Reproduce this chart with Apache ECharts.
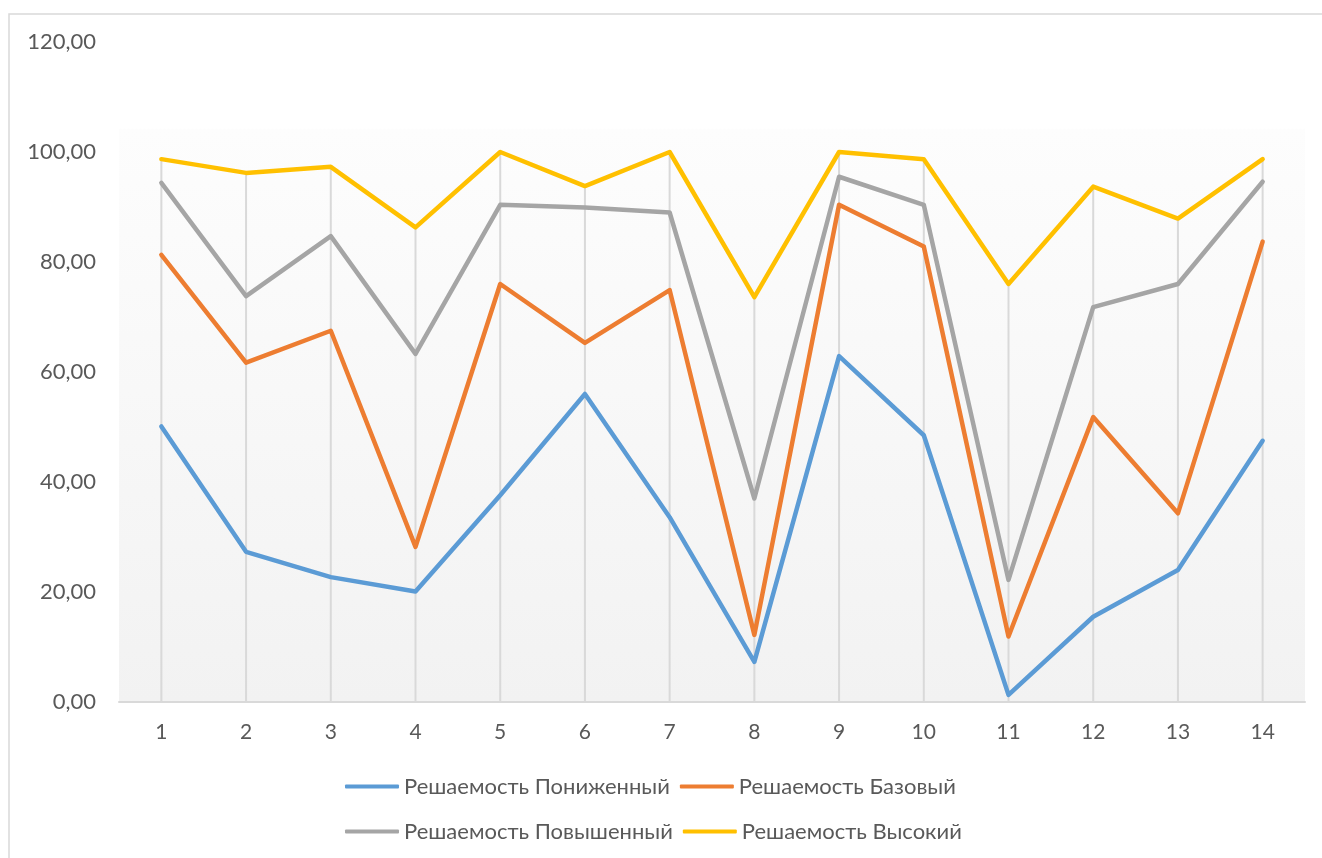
<!DOCTYPE html>
<html>
<head>
<meta charset="utf-8">
<style>
  html, body { margin: 0; padding: 0; background: #ffffff; }
  #chart { width: 1322px; height: 858px; }
</style>
<script src="https://cdn.jsdelivr.net/npm/echarts@6/dist/echarts.min.js"></script>
</head>
<body>
<div id="chart"></div>
<script>
// Task numbers along the horizontal axis
const categories = ['1', '2', '3', '4', '5', '6', '7', '8', '9', '10', '11', '12', '13', '14'];

// Solve rate (%) per difficulty level
const lowLevel = [50.1, 27.3, 22.7, 20.1, 37.6, 56.0, 33.6, 7.3, 62.9, 48.5, 1.3, 15.5, 24.0, 47.5];
const baseLevel = [81.3, 61.7, 67.5, 28.2, 76.0, 65.3, 74.9, 12.2, 90.4, 82.8, 11.9, 51.8, 34.3, 83.7];
const raisedLevel = [94.4, 73.8, 84.7, 63.3, 90.4, 89.9, 89.0, 37.0, 95.5, 90.4, 22.2, 71.8, 76.0, 94.6];
const highLevel = [98.7, 96.2, 97.3, 86.3, 100.0, 93.8, 100.0, 73.6, 100.0, 98.7, 76.0, 93.7, 87.9, 98.7];

const seriesNames = ['Решаемость Пониженный', 'Решаемость Базовый', 'Решаемость Повышенный', 'Решаемость Высокий'];
const seriesColors = ['#5B9BD5', '#ED7D31', '#A5A5A5', '#FFC000'];
const seriesValues = [lowLevel, baseLevel, raisedLevel, highLevel];

// Drop lines run from the axis up to the highest point of each task
const dropLineTops = categories.map((_, i) => Math.max(...seriesValues.map(s => s[i])));

const FONT = 'Lato, "Noto Sans", sans-serif';
const TEXT_COLOR = '#595959';

const chart = echarts.init(document.getElementById('chart'), null, { renderer: 'canvas' });

const lineSeries = seriesNames.map((name, i) => ({
  name: name,
  type: 'line',
  data: seriesValues[i],
  symbol: 'none',
  color: seriesColors[i],
  lineStyle: { width: 4.5, color: seriesColors[i], join: 'round', cap: 'round' },
  z: 3 + i
}));

const dropLines = {
  name: 'dropLines',
  type: 'bar',
  data: dropLineTops,
  barWidth: 2,
  silent: true,
  itemStyle: { color: '#d9d9d9' },
  z: 1
};

chart.setOption({
  animation: false,
  backgroundColor: '#ffffff',
  graphic: [{
    type: 'rect',
    shape: { x: 9, y: 14, width: 1400, height: 900 },
    style: { fill: 'none', stroke: '#d9d9d9', lineWidth: 1.5 },
    silent: true,
    z: -10
  }],
  grid: {
    left: 119,
    right: 17,
    top: 42,
    bottom: 156,
    show: true,
    borderWidth: 0,
    backgroundColor: {
      type: 'linear', x: 0, y: 0, x2: 0, y2: 1,
      colorStops: [
        { offset: 0, color: '#ffffff' },
        { offset: 0.131, color: '#ffffff' },
        { offset: 0.133, color: '#fdfdfd' },
        { offset: 1, color: '#f2f2f2' }
      ]
    }
  },
  legend: {
    data: seriesNames,
    left: 345,
    top: 769,
    width: 660,
    padding: 0,
    itemWidth: 54,
    itemHeight: 4,
    itemGap: 10,
    icon: 'roundRect',
    textStyle: { fontFamily: FONT, fontSize: 22, color: TEXT_COLOR, lineHeight: 35 }
  },
  xAxis: {
    type: 'category',
    data: categories,
    boundaryGap: true,
    axisLine: { show: true, lineStyle: { color: '#d9d9d9', width: 2 } },
    axisTick: { show: false },
    axisLabel: { fontFamily: FONT, fontSize: 21, color: TEXT_COLOR, margin: 20 },
    splitLine: { show: false }
  },
  yAxis: {
    type: 'value',
    min: 0,
    max: 120,
    interval: 20,
    axisLine: { show: false },
    axisTick: { show: false },
    splitLine: { show: false },
    axisLabel: {
      fontFamily: FONT, fontSize: 22, color: TEXT_COLOR, margin: 23,
      formatter: v => v.toFixed(2).replace('.', ',')
    }
  },
  series: [dropLines].concat(lineSeries)
});
</script>
</body>
</html>
